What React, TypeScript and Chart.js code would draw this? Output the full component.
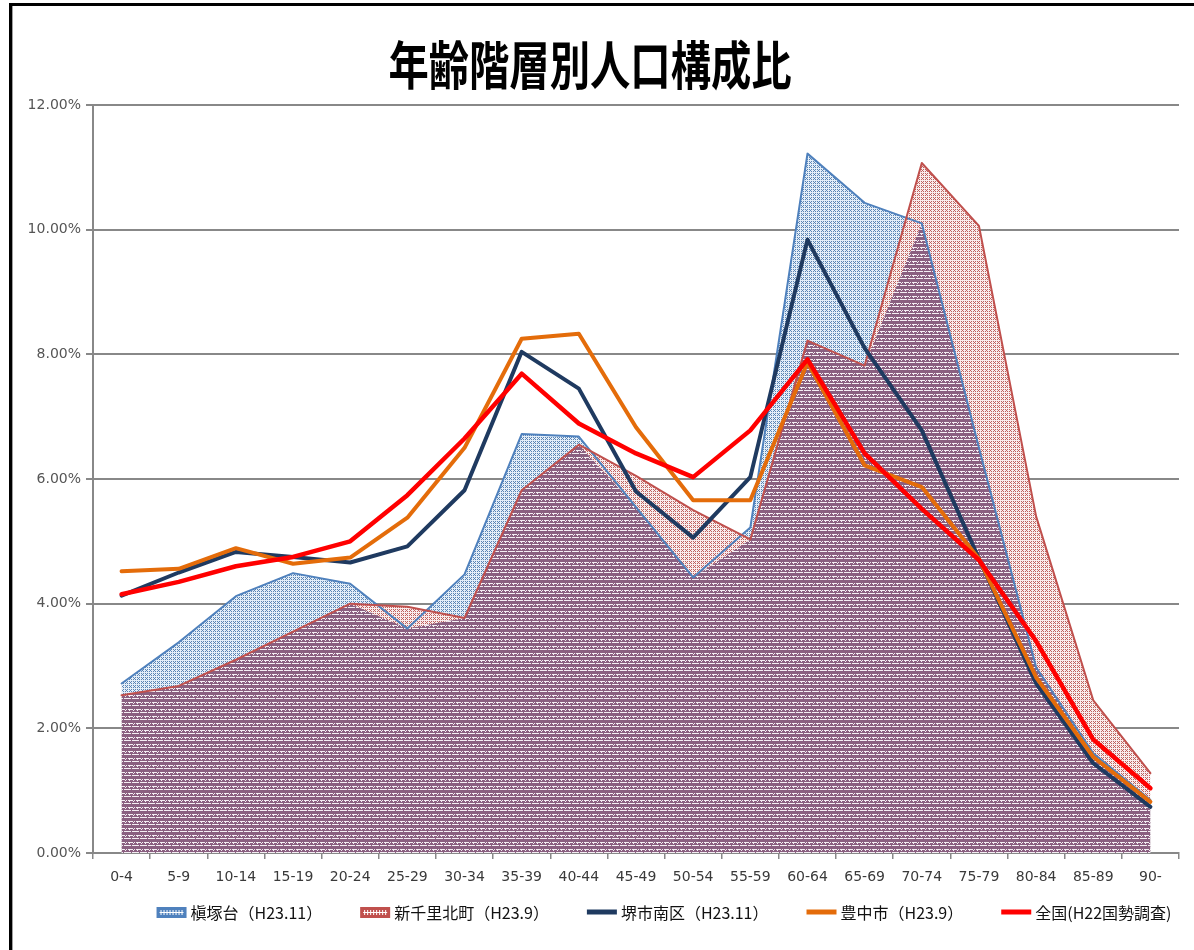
import { useEffect, useRef } from 'react';
import { Chart, registerables } from 'chart.js';

Chart.register(...registerables);

const TITLE = '年齢階層別人口構成比';

const ageGroups = ['0-4', '5-9', '10-14', '15-19', '20-24', '25-29', '30-34', '35-39', '40-44', '45-49', '50-54', '55-59', '60-64', '65-69', '70-74', '75-79', '80-84', '85-89', '90-'];
const yTicks = [0, 2, 4, 6, 8, 10, 12];

const seriesNames = ['槇塚台（H23.11）', '新千里北町（H23.9）', '堺市南区（H23.11）', '豊中市（H23.9）', '全国(H22国勢調査)'];

// values in percent
const makizukadai = [2.72, 3.38, 4.12, 4.49, 4.32, 3.6, 4.47, 6.72, 6.68, 5.55, 4.42, 5.22, 11.22, 10.43, 10.1, 6.5, 2.98, 1.6, 0.85];
const shinsenriKita = [2.53, 2.68, 3.1, 3.55, 4.0, 3.95, 3.77, 5.82, 6.55, 6.05, 5.5, 5.03, 8.22, 7.82, 11.07, 10.06, 5.4, 2.45, 1.28];
const sakaiMinami = [4.13, 4.5, 4.83, 4.75, 4.66, 4.92, 5.82, 8.04, 7.45, 5.8, 5.06, 6.03, 9.84, 8.1, 6.78, 4.72, 2.72, 1.44, 0.74];
const toyonaka = [4.52, 4.56, 4.89, 4.64, 4.74, 5.38, 6.5, 8.25, 8.33, 6.83, 5.66, 5.66, 7.87, 6.22, 5.87, 4.72, 2.82, 1.54, 0.82];
const zenkoku = [4.15, 4.35, 4.6, 4.75, 5.0, 5.74, 6.65, 7.69, 6.89, 6.41, 6.03, 6.78, 7.92, 6.41, 5.52, 4.7, 3.4, 1.82, 1.04];

const COLORS = {
  makiBorder: '#4f81bd',
  shinBorder: '#c0504d',
  sakai: '#1f3a60',
  toyonaka: '#e46c0a',
  zenkoku: '#ff0000',
};

function makePattern(base: CanvasRenderingContext2D, w: number, h: number, draw: (g: CanvasRenderingContext2D) => void) {
  const c = document.createElement('canvas');
  c.width = w;
  c.height = h;
  const g = c.getContext('2d')!;
  draw(g);
  return base.createPattern(c, 'repeat')!;
}

export default function App() {
  const ref = useRef<HTMLCanvasElement>(null);

  useEffect(() => {
    const canvas = ref.current!;
    const baseCtx = canvas.getContext('2d')!;

    const crossDots = (bg: string, fg: string) => (g: CanvasRenderingContext2D) => {
      g.fillStyle = bg;
      g.fillRect(0, 0, 4, 4);
      g.fillStyle = fg;
      [[1, 1], [3, 1], [2, 2], [1, 3], [3, 3]].forEach(([px, py]) => g.fillRect(px, py, 1, 1));
    };
    const bluePattern = makePattern(baseCtx, 4, 4, crossDots('#e4eef8', '#5a84b4'));
    const pinkPattern = makePattern(baseCtx, 4, 4, crossDots('#f8eded', '#c0605e'));
    const overlapPattern = makePattern(baseCtx, 8, 7, (g) => {
      g.fillStyle = '#8a5f80';
      g.fillRect(0, 0, 8, 7);
      g.fillStyle = '#f4eef3';
      g.fillRect(0, 2, 5, 1);
      g.fillRect(6, 2, 1, 1);
      g.fillRect(1, 3, 1, 1);
      g.fillRect(5, 3, 1, 1);
      g.fillRect(0, 5, 3, 1);
      g.fillRect(4, 5, 4, 1);
    });

    const overlap = makizukadai.map((v, i) => Math.min(v, shinsenriKita[i]));

    const decorPlugin = {
      id: 'decor',
      beforeDraw(chart: any) {
        const ctx = chart.ctx as CanvasRenderingContext2D;
        ctx.save();
        ctx.fillStyle = '#ffffff';
        ctx.fillRect(0, 0, chart.width, chart.height);
        ctx.fillStyle = '#000000';
        ctx.fillRect(9, 3, chart.width - 9, 3);
        ctx.fillRect(9, 3, 3, chart.height - 3);
        ctx.fillStyle = '#a0a0a0';
        ctx.fillRect(12, 6, 1, chart.height - 6);
        ctx.translate(590, 65);
        ctx.scale(0.84, 1.1);
        ctx.font = 'bold 48px "Noto Sans CJK JP"';
        ctx.textAlign = 'center';
        ctx.textBaseline = 'middle';
        ctx.fillStyle = '#000000';
        ctx.fillText(TITLE, 0, 0);
        ctx.restore();
      },
      afterDraw(chart: any) {
        const ctx = chart.ctx as CanvasRenderingContext2D;
        const items = chart.data.datasets.filter((d: any) => d.legendShape);
        ctx.save();
        ctx.font = '16px "Noto Sans CJK JP"';
        const boxW = 30;
        const gapBox = 4;
        const gapItem = 38;
        const widths = items.map((d: any) => boxW + gapBox + ctx.measureText(d.label).width);
        const total = widths.reduce((a: number, b: number) => a + b, 0) + gapItem * (items.length - 1);
        let x = 664 - total / 2;
        const y = 912;
        items.forEach((d: any, i: number) => {
          if (d.legendShape === 'area') {
            ctx.fillStyle = d.borderColor;
            ctx.fillRect(x, y - 5, boxW, 11);
            ctx.fillStyle = '#ffffff';
            ctx.fillRect(x + 3, y, boxW - 6, 1);
            for (let k = x + 4; k < x + boxW - 3; k += 3) ctx.fillRect(k, y - 2, 1, 5);
          } else {
            ctx.strokeStyle = d.borderColor;
            ctx.lineWidth = 5;
            ctx.beginPath();
            ctx.moveTo(x, y);
            ctx.lineTo(x + boxW, y);
            ctx.stroke();
          }
          ctx.fillStyle = '#111111';
          ctx.textAlign = 'left';
          ctx.textBaseline = 'middle';
          ctx.fillText(d.label, x + boxW + gapBox, y + 1);
          x += widths[i] + gapItem;
        });
        ctx.restore();
      },
    };

    const lineCommon = {
      type: 'line' as const,
      pointRadius: 0,
      pointHoverRadius: 0,
      tension: 0,
      borderJoinStyle: 'round' as const,
      borderCapStyle: 'round' as const,
      fill: false,
    };

    const chart = new Chart(canvas, {
      type: 'line',
      data: {
        labels: ageGroups,
        datasets: [
          {
            ...lineCommon,
            label: seriesNames[0],
            data: makizukadai,
            borderColor: COLORS.makiBorder,
            backgroundColor: bluePattern,
            borderWidth: 2,
            fill: 'origin',
            order: 6,
            legendShape: 'area',
          } as any,
          {
            ...lineCommon,
            label: seriesNames[1],
            data: shinsenriKita,
            borderColor: COLORS.shinBorder,
            backgroundColor: pinkPattern,
            borderWidth: 2,
            fill: 'origin',
            order: 5,
            legendShape: 'area',
          } as any,
          {
            ...lineCommon,
            label: 'overlap',
            data: overlap,
            borderColor: 'rgba(0,0,0,0)',
            backgroundColor: overlapPattern,
            borderWidth: 0,
            fill: 'origin',
            order: 4,
          } as any,
          {
            ...lineCommon,
            label: seriesNames[2],
            data: sakaiMinami,
            borderColor: COLORS.sakai,
            backgroundColor: COLORS.sakai,
            borderWidth: 4,
            order: 2,
            legendShape: 'line',
          } as any,
          {
            ...lineCommon,
            label: seriesNames[3],
            data: toyonaka,
            borderColor: COLORS.toyonaka,
            backgroundColor: COLORS.toyonaka,
            borderWidth: 4,
            order: 1,
            legendShape: 'line',
          } as any,
          {
            ...lineCommon,
            label: seriesNames[4],
            data: zenkoku,
            borderColor: COLORS.zenkoku,
            backgroundColor: COLORS.zenkoku,
            borderWidth: 4.5,
            order: 0,
            legendShape: 'line',
          } as any,
        ],
      },
      options: {
        responsive: false,
        animation: false,
        devicePixelRatio: 1,
        events: [],
        layout: { padding: { left: 12, right: 15, top: 105, bottom: 0 } },
        plugins: {
          legend: { display: false },
          title: { display: false },
          tooltip: { enabled: false },
          filler: { drawTime: 'beforeDatasetsDraw' },
        } as any,
        scales: {
          x: {
            type: 'category',
            offset: true,
            grid: {
              display: true,
              drawOnChartArea: false,
              drawTicks: true,
              tickLength: 6,
              color: '#888888',
              lineWidth: 1.5,
              offset: true,
            },
            border: { display: true, color: '#888888', width: 2 },
            ticks: {
              color: '#3a3a3a',
              font: { family: 'DejaVu Sans', size: 14 },
              padding: 10,
              maxRotation: 0,
              autoSkip: false,
            },
            afterFit: (s: any) => {
              s.height = 97;
            },
          },
          y: {
            min: 0,
            max: 12,
            afterBuildTicks: (s: any) => {
              s.ticks = yTicks.map((v) => ({ value: v }));
            },
            grid: { color: '#888888', lineWidth: 2, tickLength: 7, drawTicks: true },
            border: { color: '#888888', width: 2 },
            ticks: {
              color: '#555555',
              font: { family: 'DejaVu Sans', size: 14 },
              padding: 5,
              callback: (v: any) => Number(v).toFixed(2) + '%',
            },
            afterFit: (s: any) => {
              s.width = 81;
            },
          },
        } as any,
      },
      plugins: [decorPlugin],
    });

    return () => chart.destroy();
  }, []);

  return (
    <div style={{ position: 'fixed', left: 0, top: 0, width: 1194, height: 950, background: '#ffffff' }}>
      <canvas ref={ref} width={1194} height={950} style={{ display: 'block', width: 1194, height: 950 }} />
    </div>
  );
}
